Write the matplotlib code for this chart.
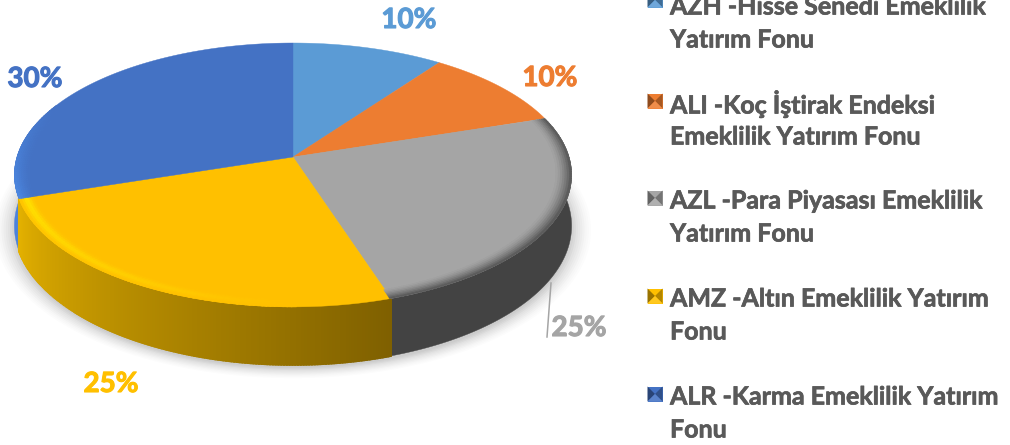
import numpy as np
import matplotlib
matplotlib.use("Agg")
import matplotlib.pyplot as plt
import matplotlib.patheffects as pe
from matplotlib.colors import to_rgb

plt.rcParams['font.family'] = ['Lato', 'Open Sans', 'DejaVu Sans']

categories = ["AZH -Hisse Senedi Emeklilik\nYatırım Fonu",
              "ALI -Koç İştirak Endeksi\nEmeklilik Yatırım Fonu",
              "AZL -Para Piyasası Emeklilik\nYatırım Fonu",
              "AMZ -Altın Emeklilik Yatırım\nFonu",
              "ALR -Karma Emeklilik Yatırım\nFonu"]
values = [10, 10, 25, 25, 30]
colors = ["#5B9BD5", "#ED7D31", "#A5A5A5", "#FFC000", "#4472C4"]
label_texts = ["10%", "10%", "25%", "25%", "30%"]
label_xy = [(409, 20), (550, 78), (579, 328), (111, 384), (35, 79)]
legend_text_y = [7, 104, 201, 299, 397]

CX, CY, A, B, K, DEPTH = 293, 157, 276, 129.5, 0.136, 50


def proj(theta, r=1.0):
    w = 1 + K * r * np.cos(theta)
    return CX + A * r * np.sin(theta) / w, CY - B * r * np.cos(theta) / w


def depth(theta):
    return DEPTH / (1 + K * np.cos(theta))


def mix(c1, c2, t):
    c1, c2 = np.array(to_rgb(c1)), np.array(to_rgb(c2))
    return tuple(c1 + (c2 - c1) * t)


fig = plt.figure(figsize=(10.1, 4.45), dpi=100)
ax = fig.add_axes([0, 0, 1, 1])
ax.set_xlim(0, 1010)
ax.set_ylim(445, 0)
ax.axis('off')

edges = np.cumsum([0] + values) / sum(values) * 2 * np.pi

# soft shadow under the disk
full = np.linspace(0, 2 * np.pi, 361)
for grow, alpha in zip(np.linspace(1.07, 1.0, 10), [0.012] * 3 + [0.02] * 4 + [0.03] * 3):
    fx, fy = proj(full)
    sx = CX + (fx - CX) * grow
    sy = CY + (fy - CY) * grow + depth(full) + 3
    ax.fill(sx, sy, color='black', alpha=alpha, lw=0, zorder=1)

side_left = {3: ("#7F6000", "#E3B000"), 2: ("#434343", "#434343"),
             4: ("#4C82DC", "#4C82DC"), 0: ("#5B9BD5", "#5B9BD5"), 1: ("#ED7D31", "#ED7D31")}

# side walls
for i in [2, 4, 3]:
    th = np.linspace(edges[i], edges[i + 1], 180)
    if i == 2:
        th = th[np.cos(th) < 0.25]
    if i == 4:
        th = th[np.cos(th) < 0.25]
    if side_left[i][0] == side_left[i][1]:
        x, y = proj(th)
        ax.fill(np.r_[x, x[::-1]], np.r_[y, (y + depth(th))[::-1]], color=side_left[i][0], lw=0.3, zorder=2)
        continue
    for j, (a, b) in enumerate(zip(th[:-1], th[1:])):
        xa, ya = proj(a)
        xb, yb = proj(b)
        t = j / (len(th) - 2)
        col = mix(side_left[i][0], side_left[i][1], t)
        ax.fill([xa, xb, xb, xa], [ya, yb, yb + depth(b), ya + depth(a)],
                color=col, ec=col, lw=1.5, zorder=2)

# top faces
rim_out = {0: "#5B9BD5", 1: "#ED7D31", 2: "#5C5C5C", 3: "#FFE000", 4: "#4C88E2"}
for i in range(len(values)):
    th = np.linspace(edges[i], edges[i + 1], 120)
    x, y = proj(th)
    ax.fill(np.r_[CX, x], np.r_[CY, y], color=colors[i], lw=0.3, zorder=3)
    # rim bevel, drawn in short arcs so its strength can fade along the edge
    rs = np.linspace(0.945, 1.0, 8)
    for a, b in zip(th[:-1], th[1:]):
        if i == 3:
            f = np.clip((b - edges[3]) / (edges[4] - edges[3]) * 1.25 - 0.25, 0, 1)
        elif i == 4:
            f = np.clip((edges[4] + 0.75 - b) / 0.75, 0, 1)
        elif i == 2:
            f = 1.0
        else:
            continue
        if f <= 0:
            continue
        seg = np.array([a, b + 0.004])
        for r0, r1 in zip(rs[:-1], rs[1:]):
            t = (r1 - 0.945) / 0.055
            if i == 3:
                s = np.exp(-((t - 0.62) / 0.3) ** 2) * f
            else:
                s = t ** 1.5 * f
            col = mix(colors[i], rim_out[i], s)
            x0, y0 = proj(seg, r0)
            x1, y1 = proj(seg, r1)
            ax.fill(np.r_[x0, x1[::-1]], np.r_[y0, y1[::-1]], color=col, ec=col, lw=0.4, zorder=4)

# data labels and leader line
thick = [pe.withStroke(linewidth=0.7, foreground=None)]
ax.plot([551, 547], [283, 337], color="#A5A5A5", lw=1.1, zorder=5)
for txt, (lx, ly), col in zip(label_texts, label_xy, colors):
    ax.text(lx, ly, txt, color=col, fontsize=20, fontweight='bold', ha='center', va='center', zorder=6,
            path_effects=[pe.withStroke(linewidth=0.8, foreground=col)])

# legend
S = 7.5
for name, ty, col in zip(categories, legend_text_y, colors):
    mx, my = 655, ty - 3 if ty > 10 else 0
    ax.fill([mx - S, mx + S, mx + S, mx - S], [my - S, my - S, my + S, my + S], color=col, lw=0, zorder=5)
    ax.fill([mx - S, mx, mx - S], [my - S, my, my + S], color=mix(col, "#000000", 0.4), lw=0, zorder=6)
    ax.fill([mx + S, mx, mx + S], [my - S, my, my + S], color=mix(col, "#000000", 0.3), lw=0, zorder=6)
    ax.fill([mx - S, mx + S, mx], [my + S, my + S, my], color=mix(col, "#FFFFFF", 0.12), lw=0, zorder=6)
    l1, l2 = name.split("\n")
    for line, yy in ((l1, ty), (l2, ty + 33)):
        ax.text(670, yy, line, color="#595959", fontsize=18, fontweight='bold', ha='left', va='center', zorder=6,
                path_effects=[pe.withStroke(linewidth=0.5, foreground="#595959")])

fig.savefig("out.png", dpi=100)
